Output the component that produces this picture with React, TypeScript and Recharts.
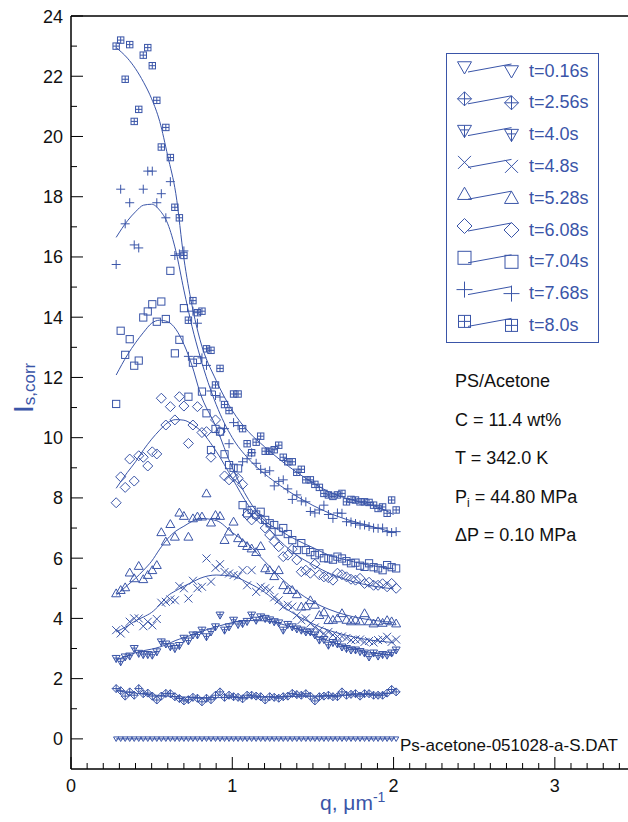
import { ComposedChart, Scatter, Line, XAxis, YAxis, Legend, Customized } from 'recharts'

const BLUE = '#3a55a8'
const FONT = '"Liberation Sans", Arial, sans-serif'

// measured q positions (um^-1), shared by every time slice
const qValues = [
  0.280, 0.308, 0.336, 0.364, 0.392, 0.420, 0.448, 0.476, 0.504, 0.532,
  0.560, 0.588, 0.616, 0.644, 0.672, 0.700, 0.728, 0.756, 0.784, 0.812,
  0.840, 0.868, 0.896, 0.924, 0.952, 0.980, 1.008, 1.036, 1.064, 1.092,
  1.120, 1.148, 1.176, 1.204, 1.232, 1.260, 1.288, 1.316, 1.344, 1.372,
  1.400, 1.428, 1.456, 1.484, 1.512, 1.540, 1.568, 1.596, 1.624, 1.652,
  1.680, 1.708, 1.736, 1.764, 1.792, 1.820, 1.848, 1.876, 1.904, 1.932,
  1.960, 1.988, 2.016,
]

const i016 = [
  0, 0, 0, 0, 0, 0, 0, 0, 0, 0, 0, 0, 0, 0, 0, 0, 0, 0, 0, 0, 0, 0, 0, 0, 0, 0, 0, 0, 0, 0, 0, 0,
  0, 0, 0, 0, 0, 0, 0, 0, 0, 0, 0, 0, 0, 0, 0, 0, 0, 0, 0, 0, 0, 0, 0, 0, 0, 0, 0, 0, 0, 0, 0,
]
const i256 = [
  1.67, 1.6, 1.42, 1.56, 1.45, 1.67, 1.5, 1.52, 1.42, 1.29,
  1.42, 1.51, 1.5, 1.4, 1.34, 1.26, 1.3, 1.38, 1.35, 1.23,
  1.35, 1.3, 1.45, 1.56, 1.38, 1.45, 1.4, 1.38, 1.33, 1.45,
  1.45, 1.42, 1.4, 1.29, 1.4, 1.38, 1.35, 1.4, 1.42, 1.51,
  1.47, 1.45, 1.5, 1.42, 1.26, 1.4, 1.42, 1.45, 1.4, 1.4,
  1.56, 1.45, 1.48, 1.5, 1.42, 1.5, 1.5, 1.45, 1.45, 1.45,
  1.52, 1.64, 1.56,
]
const i40 = [
  2.67, 2.56, 2.72, 2.75, 3.0, 2.84, 2.8, 2.8, 2.78, 2.89,
  3.22, 3.15, 3.06, 3.0, 3.1, 3.34, 3.25, 3.45, 3.45, 3.61,
  3.39, 3.55, 3.72, 4.11, 3.61, 3.72, 3.94, 3.8, 3.83, 3.9,
  4.11, 3.94, 4.05, 4.0, 3.95, 3.89, 3.85, 3.61, 3.8, 3.72,
  3.65, 3.61, 3.55, 3.55, 3.45, 3.28, 3.3, 3.11, 3.2, 3.15,
  3.05, 3.0, 2.95, 2.95, 2.9, 2.85, 2.72, 2.85, 2.75, 2.8,
  2.78, 2.85, 2.95,
]
const i48 = [
  3.61, 3.5, 3.65, 3.89, 4.0, 4.0, 3.74, 3.89, 3.77, 3.98,
  4.52, 4.55, 4.63, 4.6, 5.07, 5.0, 4.66, 5.25, 5.0, 5.05,
  5.99, 5.22, 5.68, 5.8, 5.54, 5.49, 5.44, 5.4, 5.6, 5.1,
  5.6, 4.88, 5.05, 5.0, 4.94, 4.7, 4.6, 4.39, 4.45, 4.39,
  4.1, 3.94, 4.0, 3.83, 3.7, 3.6, 3.5, 3.55, 3.45, 3.4,
  3.4, 3.35, 3.28, 3.3, 3.3, 3.22, 3.25, 3.2, 3.28, 3.3,
  3.39, 3.22, 3.3,
]
const i528 = [
  4.83, 4.94, 5.03, 5.52, 5.33, 5.74, 5.3, 5.44, 5.6, 5.77,
  6.86, 6.55, 7.13, 6.71, 7.51, 7.4, 6.71, 7.32, 7.38, 7.38,
  8.15, 7.18, 7.43, 7.4, 6.6, 6.88, 7.21, 6.66, 6.5, 6.4,
  6.32, 6.2, 6.4, 5.66, 5.6, 5.4, 5.6, 5.1, 4.94, 4.94,
  4.8, 4.39, 4.4, 4.6, 4.45, 4.11, 4.2, 3.94, 3.95, 4.0,
  4.17, 3.95, 3.9, 3.95, 3.9, 4.17, 3.9, 3.83, 3.9, 3.85,
  3.94, 3.9, 3.83,
]
const i608 = [
  7.84, 8.7, 8.35, 9.29, 8.56, 9.4, 9.35, 9.06, 9.53, 9.46,
  11.31, 10.42, 11.03, 10.59, 11.36, 11.05, 9.81, 10.42, 11.03, 10.17,
  10.2, 9.35, 10.59, 10.2, 8.73, 8.6, 8.7, 8.65, 8.45, 7.43,
  7.27, 7.4, 7.3, 7.0, 6.77, 6.55, 6.38, 6.05, 6.1, 6.3,
  5.94, 5.55, 5.6, 5.5, 5.8, 5.45, 5.38, 5.35, 5.27, 5.5,
  5.45, 5.38, 5.3, 5.27, 5.33, 5.16, 5.2, 5.1, 5.1, 5.15,
  5.05, 5.16, 5.0,
]
const i704 = [
  11.12, 13.55, 12.75, 13.27, 12.39, 12.56, 13.99, 14.19, 14.43, 13.85,
  14.52, 13.94, 15.54, 12.8, 13.25, 14.3, 11.36, 12.49, 12.58, 11.53,
  10.81, 9.59, 10.29, 10.2, 9.45, 9.09, 9.0, 8.98, 7.76, 7.49,
  7.6, 7.45, 7.54, 7.27, 7.16, 7.1, 6.88, 7.0, 6.8, 6.6,
  6.27, 6.5, 6.27, 6.2, 6.1, 6.16, 6.0, 5.99, 5.95, 6.05,
  5.99, 5.9, 5.83, 5.85, 5.75, 5.71, 5.83, 5.7, 5.66, 5.6,
  5.77, 5.7, 5.66,
]
const i768 = [
  15.75, 18.25, 17.1, 17.8, 16.4, 16.3, 18.25, 18.85, 18.85, 17.8,
  18.1, 17.3, 18.5, 16.05, 16.1, 16.2, 12.7, 14.2, 13.8, 12.65,
  12.4, 11.55, 11.4, 11.35, 10.3, 9.8, 10.5, 10.4, 9.2, 9.3,
  9.5, 9.15, 8.95, 8.85, 8.9, 8.4, 8.55, 8.6, 8.3, 7.95,
  8.1, 7.9, 7.87, 7.55, 7.5, 7.6, 7.76, 7.45, 7.32, 7.5,
  7.49, 7.21, 7.2, 7.15, 7.1, 7.1, 7.05, 7.0, 6.99, 7.0,
  6.88, 6.85, 6.88,
]
const i80 = [
  23.0, 23.2, 21.9, 23.05, 20.5, 20.9, 22.7, 22.95, 22.35, 21.2,
  19.65, 20.3, 19.3, 17.65, 17.3, 16.05, 13.9, 14.55, 14.15, 14.2,
  12.95, 12.9, 11.75, 12.3, 11.1, 10.9, 11.45, 11.45, 10.3, 9.8,
  9.5, 9.85, 10.05, 9.55, 9.55, 9.6, 9.75, 9.35, 9.2, 9.2,
  8.85, 8.95, 8.6, 8.6, 8.45, 8.35, 8.15, 8.1, 8.05, 8.1,
  8.15, 7.87, 7.95, 7.93, 7.87, 7.87, 7.85, 7.76, 7.65, 7.7,
  7.49, 7.93, 7.6,
]

// fitted curves, read at these q positions
const fitQ = [0.28, 0.35, 0.4, 0.45, 0.5, 0.55, 0.6, 0.65, 0.7, 0.75, 0.8, 0.9, 1.0, 1.1, 1.2, 1.3, 1.4, 1.5, 1.6, 1.7, 1.8, 1.9, 2.0]
const fit016 = [0, 0, 0, 0, 0, 0, 0, 0, 0, 0, 0, 0, 0, 0, 0, 0, 0, 0, 0, 0, 0, 0, 0]
const fit256 = [1.6, 1.55, 1.52, 1.49, 1.46, 1.44, 1.42, 1.4, 1.39, 1.38, 1.37, 1.37, 1.37, 1.38, 1.39, 1.4, 1.41, 1.42, 1.44, 1.45, 1.47, 1.49, 1.52]
const fit40 = [2.62, 2.76, 2.86, 2.93, 2.98, 3.05, 3.15, 3.27, 3.36, 3.45, 3.55, 3.72, 3.86, 3.93, 3.92, 3.82, 3.65, 3.45, 3.25, 3.07, 2.93, 2.83, 2.78]
const fit48 = [3.55, 3.75, 3.92, 4.05, 4.2, 4.45, 4.75, 4.92, 5.07, 5.2, 5.33, 5.44, 5.4, 5.18, 4.87, 4.45, 4.1, 3.82, 3.6, 3.45, 3.33, 3.25, 3.2]
const fit528 = [4.77, 5.1, 5.33, 5.6, 5.9, 6.3, 6.65, 6.9, 7.06, 7.22, 7.32, 7.25, 6.85, 6.45, 5.9, 5.35, 4.9, 4.55, 4.3, 4.12, 4.0, 3.92, 3.87]
const fit608 = [8.32, 8.85, 9.2, 9.6, 9.95, 10.25, 10.5, 10.6, 10.58, 10.45, 10.25, 9.55, 8.65, 7.75, 7.15, 6.55, 6.1, 5.78, 5.5, 5.3, 5.15, 5.05, 4.98]
const fit704 = [12.08, 12.75, 13.15, 13.5, 13.8, 13.9, 13.85, 13.6, 13.1, 12.4, 11.5, 10.35, 9.0, 7.95, 7.25, 6.9, 6.6, 6.35, 6.1, 5.95, 5.82, 5.72, 5.65]
const fit768 = [16.65, 17.2, 17.5, 17.72, 17.75, 17.55, 17.1, 16.2, 14.9, 13.7, 12.7, 11.1, 10.0, 9.3, 8.8, 8.4, 8.05, 7.75, 7.5, 7.3, 7.15, 7.0, 6.85]
const fit80 = [22.95, 22.6, 22.25, 21.8, 21.25, 20.5, 19.35, 18.1, 15.95, 14.4, 13.25, 11.9, 10.9, 10.2, 9.7, 9.25, 8.85, 8.5, 8.2, 8.0, 7.85, 7.7, 7.45]

const xTicks = [
  0, 0.1, 0.2, 0.3, 0.4, 0.5, 0.6, 0.7, 0.8, 0.9, 1, 1.1, 1.2, 1.3, 1.4, 1.5, 1.6, 1.7, 1.8, 1.9,
  2, 2.1, 2.2, 2.3, 2.4, 2.5, 2.6, 2.7, 2.8, 2.9, 3, 3.1, 3.2, 3.3, 3.4, 3.5,
]
const yTicks = [-1, 0, 1, 2, 3, 4, 5, 6, 7, 8, 9, 10, 11, 12, 13, 14, 15, 16, 17, 18, 19, 20, 21, 22, 23, 24]

type Kind = 'triDown' | 'diamondPlus' | 'triDownPlus' | 'cross' | 'triUp' | 'diamond' | 'square' | 'plus' | 'squarePlus'

const series: { name: string; kind: Kind; r: number; lr: number; values: number[]; fit: number[] }[] = [
  { name: 't=0.16s', kind: 'triDown', r: 2.6, lr: 7, values: i016, fit: fit016 },
  { name: 't=2.56s', kind: 'diamondPlus', r: 4, lr: 7, values: i256, fit: fit256 },
  { name: 't=4.0s', kind: 'triDownPlus', r: 4, lr: 7, values: i40, fit: fit40 },
  { name: 't=4.8s', kind: 'cross', r: 4, lr: 6.5, values: i48, fit: fit48 },
  { name: 't=5.28s', kind: 'triUp', r: 4.5, lr: 7, values: i528, fit: fit528 },
  { name: 't=6.08s', kind: 'diamond', r: 5, lr: 7.5, values: i608, fit: fit608 },
  { name: 't=7.04s', kind: 'square', r: 3.6, lr: 6.5, values: i704, fit: fit704 },
  { name: 't=7.68s', kind: 'plus', r: 4.5, lr: 8, values: i768, fit: fit768 },
  { name: 't=8.0s', kind: 'squarePlus', r: 3.2, lr: 6, values: i80, fit: fit80 },
]

const toPoints = (qs: number[], vs: number[]) => qs.map((q, i) => ({ q, v: vs[i] }))

function Marker({ cx, cy, kind, r }: { cx: number; cy: number; kind: Kind; r: number }) {
  const p = { fill: 'none', stroke: BLUE, strokeWidth: 1 }
  const down = `${cx - r},${cy - r * 0.75} ${cx + r},${cy - r * 0.75} ${cx},${cy + r}`
  const up = `${cx - r},${cy + r * 0.75} ${cx + r},${cy + r * 0.75} ${cx},${cy - r}`
  const dia = `${cx},${cy - r} ${cx + r},${cy} ${cx},${cy + r} ${cx - r},${cy}`
  switch (kind) {
    case 'triDown':
      return <polygon points={down} {...p} />
    case 'triUp':
      return <polygon points={up} {...p} />
    case 'diamond':
      return <polygon points={dia} {...p} />
    case 'diamondPlus':
      return (
        <g {...p}>
          <polygon points={dia} />
          <line x1={cx} y1={cy - r} x2={cx} y2={cy + r} />
          <line x1={cx - r} y1={cy} x2={cx + r} y2={cy} />
        </g>
      )
    case 'triDownPlus':
      return (
        <g {...p}>
          <polygon points={down} />
          <line x1={cx} y1={cy - r * 0.75} x2={cx} y2={cy + r} />
          <line x1={cx - r * 0.62} y1={cy - r * 0.1} x2={cx + r * 0.62} y2={cy - r * 0.1} />
        </g>
      )
    case 'cross':
      return (
        <g {...p}>
          <line x1={cx - r} y1={cy - r} x2={cx + r} y2={cy + r} />
          <line x1={cx - r} y1={cy + r} x2={cx + r} y2={cy - r} />
        </g>
      )
    case 'plus':
      return (
        <g {...p}>
          <line x1={cx - r} y1={cy} x2={cx + r} y2={cy} />
          <line x1={cx} y1={cy - r} x2={cx} y2={cy + r} />
        </g>
      )
    case 'square':
      return <rect x={cx - r} y={cy - r} width={2 * r} height={2 * r} {...p} />
    case 'squarePlus':
      return (
        <g {...p}>
          <rect x={cx - r} y={cy - r} width={2 * r} height={2 * r} />
          <line x1={cx - r} y1={cy} x2={cx + r} y2={cy} />
          <line x1={cx} y1={cy - r} x2={cx} y2={cy + r} />
        </g>
      )
  }
  return null
}

const isMajor = (v: number) => Math.abs(v - Math.round(v)) < 1e-6

const BottomTick = (props: any) => {
  const { x, y, payload } = props
  const major = isMajor(payload.value)
  return (
    <g>
      <line x1={x} y1={y} x2={x} y2={y - (major ? 12 : 6)} stroke="#000" />
      {major && (
        <text x={x} y={y + 23} textAnchor="middle" fontSize={18} fill="#111" fontFamily={FONT}>
          {payload.value}
        </text>
      )}
    </g>
  )
}

const TopTick = (props: any) => {
  const { x, y, payload } = props
  const major = isMajor(payload.value)
  return <line x1={x} y1={y} x2={x} y2={y + (major ? 12 : 6)} stroke="#000" />
}

const LeftTick = (props: any) => {
  const { x, y, payload } = props
  const v = payload.value
  if (v < 0) return <g />
  const major = v % 2 === 0
  return (
    <g>
      <line x1={x} y1={y} x2={x + (major ? 12 : 6)} y2={y} stroke="#000" />
      {major && (
        <text x={x - 8} y={y + 6.5} textAnchor="end" fontSize={18} fill="#111" fontFamily={FONT}>
          {v}
        </text>
      )}
    </g>
  )
}

const RightTick = (props: any) => {
  const { x, y, payload } = props
  const v = payload.value
  if (v < 0) return <g />
  return <line x1={x} y1={y} x2={x - (v % 2 === 0 ? 12 : 6)} y2={y} stroke="#000" />
}

function LegendBox() {
  return (
    <svg width={154} height={291} style={{ display: 'block' }}>
      <rect x={0.5} y={0.5} width={152} height={289} fill="#fff" stroke={BLUE} />
      {series.map((s, i) => {
        const c = 17 + i * 31.8
        return (
          <g key={s.name}>
            <Marker cx={18.5} cy={c - 3} kind={s.kind} r={s.lr} />
            <line x1={22} y1={c + 2} x2={65.5} y2={c - 6} stroke={BLUE} />
            <Marker cx={65.5} cy={c + 1} kind={s.kind} r={s.lr} />
            <text x={83} y={c + 6.5} fontSize={18} fill={BLUE} fontFamily={FONT}>
              {s.name}
            </text>
          </g>
        )
      })}
    </svg>
  )
}

function Annotations() {
  const t = { fontSize: 18, fill: '#111', fontFamily: FONT }
  return (
    <g>
      <text x={455} y={387} {...t}>PS/Acetone</text>
      <text x={455} y={426} {...t}>C = 11.4 wt%</text>
      <text x={455} y={464} {...t}>T = 342.0 K</text>
      <text x={455} y={503} {...t}>
        P<tspan fontSize={12} dy={4}>i</tspan>
        <tspan dy={-4}> = 44.80 MPa</tspan>
      </text>
      <text x={455} y={541} {...t}>ΔP = 0.10 MPa</text>
      <text x={400} y={751} fontSize={17} fill="#111" fontFamily={FONT}>Ps-acetone-051028-a-S.DAT</text>
      <text x={320} y={810} fontSize={21} fill={BLUE} fontFamily={FONT}>
        q, μm<tspan fontSize={14} dy={-8}>-1</tspan>
      </text>
      <text transform="translate(33,413) rotate(-90)" fill={BLUE} fontFamily={FONT}>
        <tspan fontSize={28}>I</tspan>
        <tspan fontSize={17} dy={2}>s,corr</tspan>
      </text>
    </g>
  )
}

export default function App() {
  return (
    <div style={{ position: 'absolute', left: 0, top: 0, width: 628, height: 822, overflow: 'hidden', background: '#fff' }}>
      <ComposedChart
        width={660}
        height={822}
        margin={{ top: 10, right: 14.5, bottom: 23, left: 11 }}
        style={{ fontFamily: FONT }}
      >
        <XAxis
          xAxisId="b"
          type="number"
          dataKey="q"
          domain={[0, 3.5]}
          ticks={xTicks}
          interval={0}
          height={30}
          tickSize={0}
          tickMargin={0}
          tickLine={false}
          axisLine={{ stroke: '#000', strokeWidth: 1.5 }}
          tick={BottomTick}
        />
        <XAxis
          xAxisId="t"
          orientation="top"
          type="number"
          dataKey="q"
          domain={[0, 3.5]}
          ticks={xTicks}
          interval={0}
          height={6}
          tickSize={0}
          tickMargin={0}
          tickLine={false}
          axisLine={{ stroke: '#000', strokeWidth: 1.5 }}
          tick={TopTick}
        />
        <YAxis
          yAxisId="l"
          type="number"
          dataKey="v"
          domain={[-1, 24]}
          ticks={yTicks}
          interval={0}
          width={60}
          tickSize={0}
          tickMargin={0}
          tickLine={false}
          axisLine={{ stroke: '#000', strokeWidth: 1.5 }}
          tick={LeftTick}
        />
        <YAxis
          yAxisId="r"
          orientation="right"
          type="number"
          dataKey="v"
          domain={[-1, 24]}
          ticks={yTicks}
          interval={0}
          width={10}
          tickSize={0}
          tickMargin={0}
          tickLine={false}
          axisLine={{ stroke: '#000', strokeWidth: 1.5 }}
          tick={RightTick}
        />
        {series.map((s) => (
          <Line
            key={'fit-' + s.name}
            xAxisId="b"
            yAxisId="l"
            data={toPoints(fitQ, s.fit)}
            dataKey="v"
            type="monotone"
            stroke={BLUE}
            strokeWidth={1}
            dot={false}
            activeDot={false}
            legendType="none"
            isAnimationActive={false}
          />
        ))}
        {series.map((s) => (
          <Scatter
            key={s.name}
            name={s.name}
            xAxisId="b"
            yAxisId="l"
            data={toPoints(qValues, s.values)}
            dataKey="v"
            isAnimationActive={false}
            shape={(p: any) => <Marker cx={p.cx} cy={p.cy} kind={s.kind} r={s.r} />}
          />
        ))}
        <Legend
          layout="vertical"
          align="center"
          verticalAlign="middle"
          content={LegendBox}
          wrapperStyle={{ position: 'absolute', left: 446, top: 53, width: 154, height: 291 }}
        />
        <Customized component={Annotations} />
      </ComposedChart>
    </div>
  )
}
